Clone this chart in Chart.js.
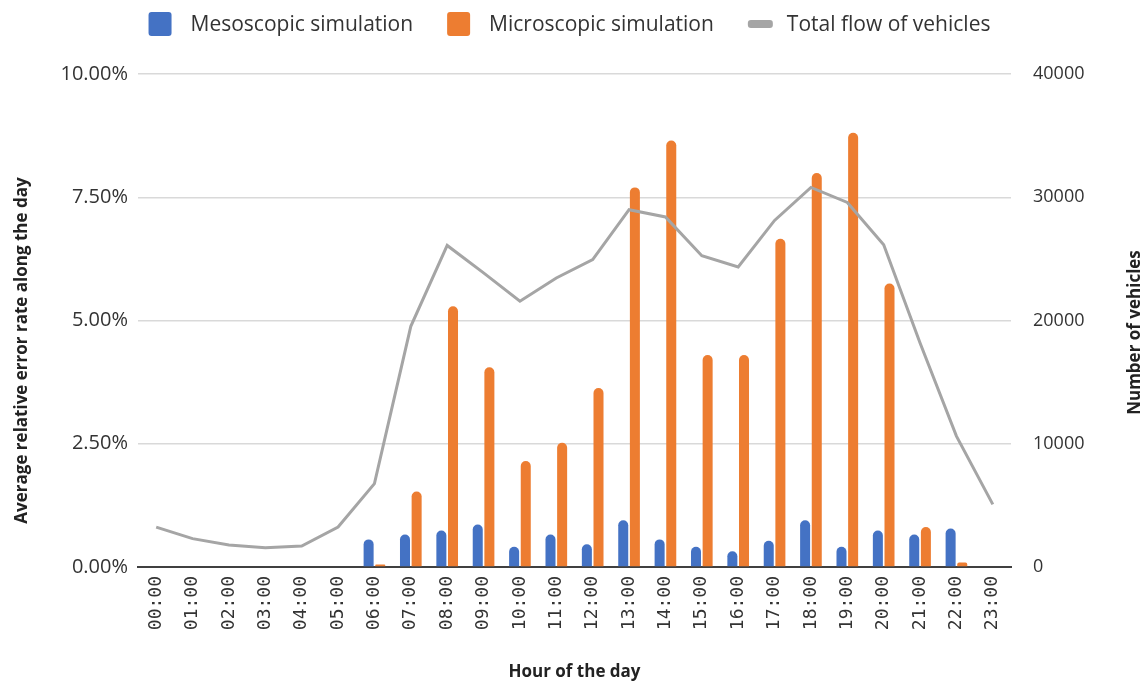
<!DOCTYPE html>
<html>
<head>
<meta charset="utf-8">
<script src="https://cdn.jsdelivr.net/npm/chart.js@4.4.1/dist/chart.umd.min.js"></script>
<style>
  html, body { margin: 0; padding: 0; background: #fff; }
  #wrap { width: 1145px; height: 685px; position: relative; }
</style>
</head>
<body>
<div id="wrap"><canvas id="chart"></canvas></div>
<script>
const hours = ["00:00", "01:00", "02:00", "03:00", "04:00", "05:00", "06:00", "07:00",
  "08:00", "09:00", "10:00", "11:00", "12:00", "13:00", "14:00", "15:00", "16:00",
  "17:00", "18:00", "19:00", "20:00", "21:00", "22:00", "23:00"];

// average relative error, in percent
const mesoError = [null, null, null, null, null, null, 0.56, 0.66, 0.74, 0.86, 0.41, 0.66,
  0.46, 0.95, 0.56, 0.41, 0.32, 0.53, 0.95, 0.41, 0.74, 0.66, 0.78, null];
const microError = [null, null, null, null, null, null, 0.05, 1.53, 5.29, 4.05, 2.15, 2.52,
  3.63, 7.70, 8.65, 4.30, 4.30, 6.66, 7.99, 8.81, 5.75, 0.81, 0.09, null];

// number of vehicles
const totalFlow = [3240, 2300, 1780, 1570, 1700, 3240, 6760, 19530, 26090, 23860, 21560, 23450,
  24940, 28990, 28400, 25260, 24340, 28120, 30800, 29580, 26150, 18180, 10620, 5080];

const leftTicks = [0, 2.5, 5, 7.5, 10];
const rightTicks = [0, 10000, 20000, 30000, 40000];

const blue = "#4472c4";
const orange = "#ed7d31";
const grey = "#a5a5a5";
const textColor = "#333333";
const sans = "'Open Sans', 'Noto Sans', sans-serif";

// legend and the two vertical axis titles
const decorations = {
  id: "decorations",
  afterDraw(chart) {
    const ctx = chart.ctx;
    const area = chart.chartArea;
    ctx.save();

    // legend
    ctx.font = "21px " + sans;
    ctx.textBaseline = "middle";
    ctx.textAlign = "left";
    const legendY = 24;
    const items = chart.data.datasets.map(function (ds) {
      const isLine = ds.type === "line";
      const markW = isLine ? 25 : 23;
      const gap = isLine ? 14 : 19;
      return { ds: ds, isLine: isLine, markW: markW, gap: gap,
        w: markW + gap + ctx.measureText(ds.label).width };
    });
    const itemGap = 34;
    let total = items.reduce(function (s, it) { return s + it.w; }, 0) + itemGap * (items.length - 1);
    let x = (area.left + area.right) / 2 - 5 - total / 2;
    items.forEach(function (it) {
      if (it.isLine) {
        ctx.fillStyle = it.ds.borderColor;
        ctx.beginPath();
        ctx.roundRect(x, legendY - 4, it.markW, 8, 3);
        ctx.fill();
      } else {
        ctx.fillStyle = it.ds.backgroundColor;
        ctx.beginPath();
        ctx.roundRect(x, legendY - 12, it.markW, 24, 3);
        ctx.fill();
      }
      ctx.fillStyle = textColor;
      ctx.fillText(it.ds.label, x + it.markW + it.gap, legendY + 1);
      x += it.w + itemGap;
    });

    // vertical axis titles, both reading bottom to top
    ctx.font = "bold 17px " + sans;
    ctx.fillStyle = "#222222";
    ctx.textAlign = "center";
    const titles = [
      { x: 22, y: (area.top + area.bottom) / 2 + 30, text: "Average relative error rate along the day" },
      { x: chart.width - 10, y: (area.top + area.bottom) / 2 + 12, text: "Number of vehicles" },
    ];
    titles.forEach(function (t) {
      ctx.save();
      ctx.translate(t.x, t.y);
      ctx.rotate(-Math.PI / 2);
      ctx.fillText(t.text, 0, 0);
      ctx.restore();
    });
    ctx.restore();
  },
};

const barRadius = { topLeft: 5, topRight: 5, bottomLeft: 0, bottomRight: 0 };

new Chart(document.getElementById("chart"), {
  type: "bar",
  data: {
    labels: hours,
    datasets: [
      {
        label: "Mesoscopic simulation",
        data: mesoError,
        backgroundColor: blue,
        borderRadius: barRadius,
        borderSkipped: "bottom",
        yAxisID: "y",
        order: 1,
      },
      {
        label: "Microscopic simulation",
        data: microError,
        backgroundColor: orange,
        borderRadius: barRadius,
        borderSkipped: "bottom",
        yAxisID: "y",
        order: 1,
      },
      {
        type: "line",
        label: "Total flow of vehicles",
        data: totalFlow,
        borderColor: grey,
        backgroundColor: grey,
        borderWidth: 3,
        pointRadius: 0,
        tension: 0,
        yAxisID: "y1",
        order: 0,
      },
    ],
  },
  options: {
    responsive: true,
    maintainAspectRatio: false,
    animation: false,
    layout: { padding: { top: 74, left: 0, right: 0, bottom: 0 } },
    datasets: { bar: { categoryPercentage: 0.64, barPercentage: 0.86 } },
    plugins: {
      legend: { display: false },
      tooltip: { enabled: false },
    },
    scales: {
      x: {
        grid: { display: false, drawTicks: false },
        border: { color: "#404040", width: 2 },
        ticks: {
          autoSkip: false,
          minRotation: 90,
          maxRotation: 90,
          padding: 9,
          color: textColor,
          font: { family: "'DejaVu Sans Mono', monospace", size: 18 },
        },
        title: {
          display: true,
          text: "Hour of the day",
          color: "#222222",
          font: { family: sans, size: 17, weight: "bold" },
          padding: { top: 0, bottom: 3 },
        },
        afterFit: function (scale) { scale.height = 118; },
      },
      y: {
        position: "left",
        min: 0,
        max: 10,
        afterBuildTicks: function (scale) {
          scale.ticks = leftTicks.map(function (v) { return { value: v }; });
        },
        ticks: {
          padding: 10,
          color: textColor,
          font: { family: sans, size: 20 },
          callback: function (v) { return Number(v).toFixed(2) + "%"; },
        },
        grid: { color: "#d9d9d9", lineWidth: 1.5, drawTicks: false },
        border: { display: false },
        afterFit: function (scale) { scale.width = 138; },
      },
      y1: {
        position: "right",
        min: 0,
        max: 40000,
        afterBuildTicks: function (scale) {
          scale.ticks = rightTicks.map(function (v) { return { value: v }; });
        },
        ticks: {
          padding: 22,
          color: textColor,
          font: { family: sans, size: 18 },
          callback: function (v) { return String(v); },
        },
        grid: { display: false, drawTicks: false },
        border: { display: false },
        afterFit: function (scale) { scale.width = 134; },
      },
    },
  },
  plugins: [decorations],
});
</script>
</body>
</html>
